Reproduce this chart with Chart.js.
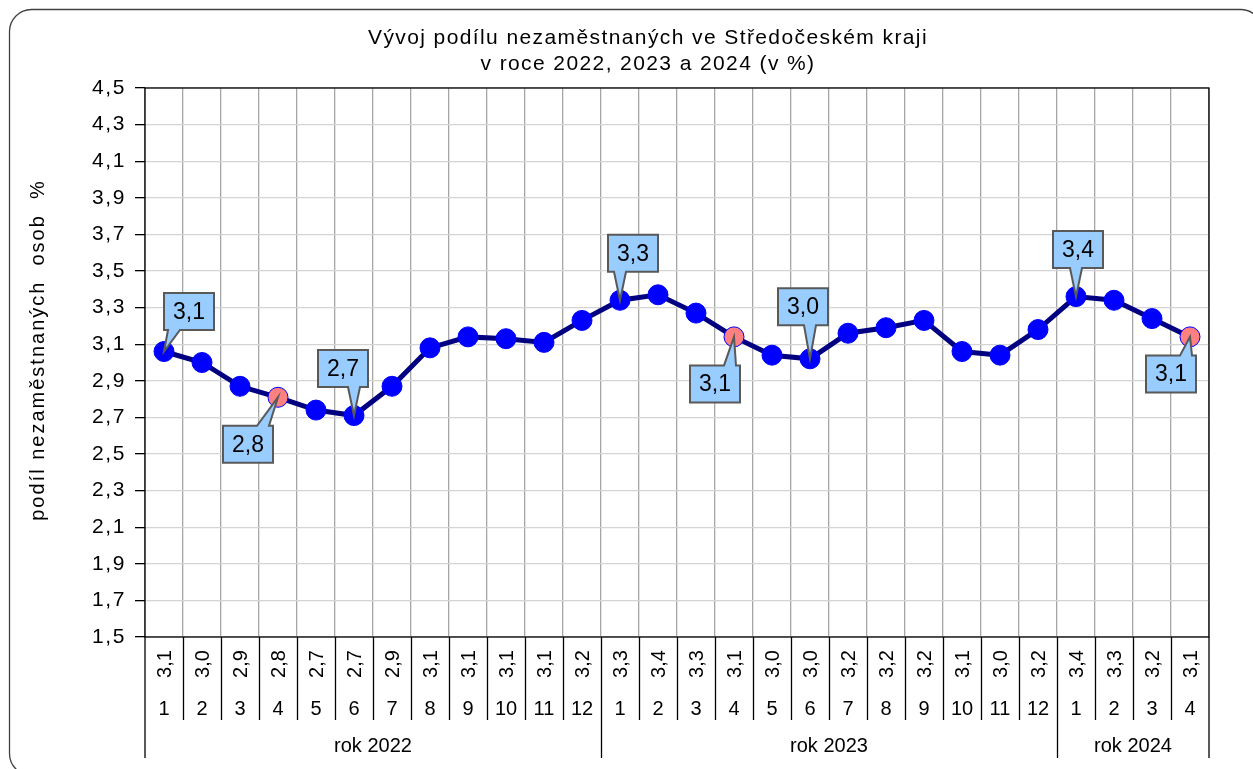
<!DOCTYPE html>
<html>
<head>
<meta charset="utf-8">
<script src="https://cdn.jsdelivr.net/npm/chart.js@4"></script>
<style>
  html, body { margin: 0; padding: 0; background: #fff; }
  #wrap { width: 1253px; height: 769px; position: relative; }
</style>
</head>
<body>
<div id="wrap"><canvas id="chart"></canvas></div>
<script>
// data
const months = [1,2,3,4,5,6,7,8,9,10,11,12, 1,2,3,4,5,6,7,8,9,10,11,12, 1,2,3,4];
const shares = [3.06,3.00,2.87,2.81,2.74,2.71,2.87,3.08,3.14,3.13,3.11,3.23,
                3.34,3.37,3.27,3.14,3.04,3.02,3.16,3.19,3.23,3.06,3.04,3.18,
                3.36,3.34,3.24,3.14];
const tableValues = ['3,1','3,0','2,9','2,8','2,7','2,7','2,9','3,1','3,1','3,1','3,1','3,2',
                     '3,3','3,4','3,3','3,1','3,0','3,0','3,2','3,2','3,2','3,1','3,0','3,2',
                     '3,4','3,3','3,2','3,1'];
const years = ['rok 2022','rok 2023','rok 2024'];
const yearLengths = [12, 12, 4];
const yTicks = [1.5,1.7,1.9,2.1,2.3,2.5,2.7,2.9,3.1,3.3,3.5,3.7,3.9,4.1,4.3,4.5];
const highlighted = [3, 15, 27];          // April of every year
const calloutIdx = [0, 3, 5, 12, 15, 17, 24, 27];
const calloutText = ['3,1','2,8','2,7','3,3','3,1','3,0','3,4','3,1'];
// offsets of the callout boxes from their points (styling)
const calloutOffset = [[25,-40],[-30,47],[-11,-47],[13,-47],[-19,47],[-7,-52],[2,-47],[-19,37]];
const titleLines = ['Vývoj podílu nezaměstnaných ve Středočeském kraji', 'v roce 2022, 2023 a 2024 (v %)'];
const yTitle = 'podíl nezaměstnaných  osob  %';

const FONT = 'Liberation Sans, Arial, sans-serif';

const frame = {
  id: 'frame',
  beforeDraw(chart) {
    const ctx = chart.ctx;
    ctx.save();
    ctx.fillStyle = '#fff';
    ctx.fillRect(0, 0, chart.width, chart.height);
    ctx.strokeStyle = '#404040';
    ctx.lineWidth = 1.3;
    ctx.beginPath();
    ctx.roundRect(9.5, 9.5, 1253, 766, 22);
    ctx.stroke();

    // titles
    ctx.fillStyle = '#000';
    ctx.textAlign = 'center';
    ctx.textBaseline = 'middle';
    ctx.letterSpacing = '1.4px';
    ctx.font = '21px ' + FONT;
    titleLines.forEach((t, i) => ctx.fillText(t, 648, 38 + i * 26));
    ctx.letterSpacing = '2px';
    ctx.font = '20px ' + FONT;
    ctx.translate(38, 350);
    ctx.rotate(-Math.PI / 2);
    ctx.fillText(yTitle, 0, 0);
    ctx.restore();
    // the original's axis texts are set a little wide
    ctx.letterSpacing = '1.6px';
  },
  beforeDatasetsDraw(chart) {
    const a = chart.chartArea, ctx = chart.ctx;
    ctx.save();
    ctx.strokeStyle = '#000';
    ctx.lineWidth = 1.3;
    ctx.strokeRect(a.left, a.top, a.right - a.left, a.bottom - a.top);
    ctx.restore();
  }
};

const table = {
  id: 'table',
  afterDraw(chart) {
    const ctx = chart.ctx, x = chart.scales.x, a = chart.chartArea;
    const top = a.bottom, rowEnd = 720, bottom = 758;
    ctx.save();
    ctx.letterSpacing = '0px';
    ctx.strokeStyle = '#000';
    ctx.lineWidth = 1.3;
    ctx.fillStyle = '#000';
    ctx.font = '20px ' + FONT;
    const edge = i => (x.getPixelForValue(i - 1) + x.getPixelForValue(i)) / 2;
    const bounds = [];
    let s = 0;
    yearLengths.forEach(n => { bounds.push(s); s += n; });
    bounds.push(s);
    // vertical lines
    for (let i = 0; i <= months.length; i++) {
      const px = i === 0 ? a.left : i === months.length ? a.right : Math.round(edge(i)) + 0.5;
      const end = bounds.includes(i) ? bottom : rowEnd;
      ctx.beginPath();
      ctx.moveTo(px, top);
      ctx.lineTo(px, end);
      ctx.stroke();
    }
    // values (rotated) and months
    months.forEach((m, i) => {
      const cx = x.getPixelForValue(i);
      ctx.save();
      ctx.translate(cx + 1, 664);
      ctx.rotate(-Math.PI / 2);
      ctx.textAlign = 'center';
      ctx.textBaseline = 'middle';
      ctx.fillText(tableValues[i], 0, 0);
      ctx.restore();
      ctx.textAlign = 'center';
      ctx.textBaseline = 'middle';
      ctx.fillText(String(m), cx, 709);
    });
    // years
    years.forEach((y, k) => {
      const l = bounds[k] === 0 ? a.left : edge(bounds[k]);
      const r = bounds[k + 1] === months.length ? a.right : edge(bounds[k + 1]);
      ctx.fillText(y, (l + r) / 2, 746);
    });
    ctx.restore();
  }
};

const callouts = {
  id: 'callouts',
  afterDatasetsDraw(chart) {
    const ctx = chart.ctx, meta = chart.getDatasetMeta(0);
    const w = 50, h = 37;
    ctx.save();
    ctx.letterSpacing = '0px';
    ctx.font = '23px ' + FONT;
    calloutIdx.forEach((idx, k) => {
      const pt = meta.data[idx];
      const px = pt.x, py = pt.y;
      const bx = px + calloutOffset[k][0] - w / 2;
      const by = py + calloutOffset[k][1] - h / 2;
      const below = calloutOffset[k][1] > 0;
      // tail base sits on the box edge nearest to the point
      const tx = Math.min(Math.max(px, bx + 10), bx + w - 10);
      const base1 = tx - 6, base2 = tx + 6;
      ctx.beginPath();
      ctx.moveTo(bx, by);
      if (below) {
        ctx.lineTo(base1, by);
        ctx.lineTo(px, py);
        ctx.lineTo(base2, by);
        ctx.lineTo(bx + w, by);
        ctx.lineTo(bx + w, by + h);
        ctx.lineTo(bx, by + h);
      } else {
        ctx.lineTo(bx + w, by);
        ctx.lineTo(bx + w, by + h);
        ctx.lineTo(base2, by + h);
        ctx.lineTo(px, py);
        ctx.lineTo(base1, by + h);
        ctx.lineTo(bx, by + h);
      }
      ctx.closePath();
      ctx.fillStyle = '#99ccff';
      ctx.fill();
      ctx.strokeStyle = '#595959';
      ctx.lineWidth = 2;
      ctx.stroke();
      ctx.fillStyle = '#000';
      ctx.textAlign = 'center';
      ctx.textBaseline = 'middle';
      ctx.fillText(calloutText[k], bx + w / 2, by + h / 2 + 1);
    });
    ctx.restore();
  }
};

new Chart(document.getElementById('chart'), {
  type: 'line',
  data: {
    labels: months.map(String),
    datasets: [{
      data: shares,
      borderColor: '#000080',
      borderWidth: 5,
      pointRadius: 10,
      pointHoverRadius: 10,
      pointBorderWidth: 1,
      pointBackgroundColor: shares.map((v, i) => highlighted.includes(i) ? '#ff8080' : '#0000ff'),
      pointBorderColor: '#0000ff',
      tension: 0
    }]
  },
  options: {
    responsive: true,
    maintainAspectRatio: false,
    animation: false,
    layout: { padding: { left: 10, top: 88, right: 44, bottom: 132 } },
    plugins: {
      legend: { display: false },
      tooltip: { enabled: false },
      title: { display: false }
    },
    scales: {
      x: {
        type: 'category',
        offset: true,
        grid: { color: '#a6a6a6', lineWidth: 1.3, offset: true, drawTicks: false },
        border: { display: false },
        ticks: { display: false },
        afterFit(scale) { scale.height = 0; }
      },
      y: {
        min: 1.5,
        max: 4.5,
        afterBuildTicks(scale) { scale.ticks = yTicks.map(v => ({ value: v })); },
        grid: { color: '#d4d4d4', lineWidth: 1.3, tickLength: 10, tickColor: '#000' },
        border: { display: false },
        ticks: {
          color: '#000',
          font: { family: FONT, size: 21 },
          padding: 9,
          callback: v => v.toFixed(1).replace('.', ',')
        },
        afterFit(scale) { scale.width = 135; }
      }
    }
  },
  plugins: [frame, table, callouts]
});
</script>
</body>
</html>
